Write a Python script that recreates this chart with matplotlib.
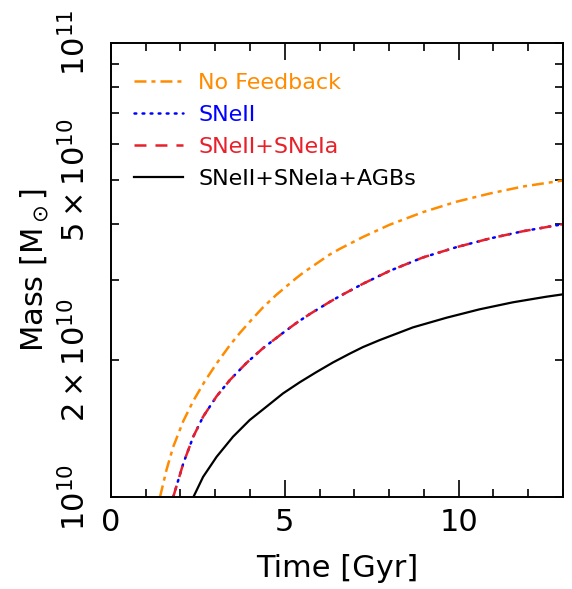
import numpy as np
import matplotlib
matplotlib.use("Agg")
import matplotlib.pyplot as plt

# stellar mass growth, values in units of 1e10 Msun
t_nofb = [1.41, 1.60, 1.79, 2.08, 2.37, 2.70, 3.04, 3.42, 3.71, 4.09, 4.38, 4.76, 5.34, 5.53,
          6.29, 6.58, 7.25, 8.02, 8.97, 9.93, 10.89, 11.85, 13.0]
m_nofb = [1.00, 1.15, 1.29, 1.47, 1.63, 1.80, 1.97, 2.16, 2.30, 2.48, 2.62, 2.79, 3.04, 3.12,
          3.42, 3.52, 3.74, 3.98, 4.24, 4.47, 4.66, 4.83, 4.98]

t_snii = [1.79, 2.08, 2.37, 2.65, 3.04, 3.42, 3.90, 4.38, 4.95, 5.34, 5.72, 6.29, 6.58, 7.25,
          8.02, 8.97, 9.93, 10.89, 11.85, 13.0]
m_snii = [1.00, 1.186, 1.36, 1.503, 1.668, 1.81, 1.975, 2.13, 2.30, 2.42, 2.53, 2.69, 2.77, 2.95,
          3.15, 3.37, 3.55, 3.71, 3.85, 3.99]

t_snia = [1.79, 2.08, 2.37, 2.65, 3.04, 3.42, 3.90, 4.38, 4.95, 5.34, 5.72, 6.29, 6.58, 7.25,
          8.02, 8.97, 9.93, 10.89, 11.85, 13.0]
m_snia = [1.00, 1.186, 1.36, 1.503, 1.668, 1.81, 1.975, 2.13, 2.30, 2.42, 2.53, 2.69, 2.77, 2.95,
          3.15, 3.37, 3.55, 3.71, 3.85, 3.99]

t_agb = [2.37, 2.65, 3.04, 3.51, 3.99, 4.47, 4.95, 5.43, 5.91, 6.39, 6.87, 7.25, 7.73, 8.69,
         9.65, 10.60, 11.56, 12.52, 13.0]
m_agb = [1.00, 1.108, 1.227, 1.358, 1.478, 1.581, 1.692, 1.79, 1.885, 1.98, 2.07, 2.14, 2.217,
         2.365, 2.483, 2.591, 2.685, 2.762, 2.796]

labels = ["No Feedback", "SNeII", "SNeII+SNeIa", "SNeII+SNeIa+AGBs"]
ytick_vals = [1e10, 2e10, 5e10, 1e11]
ytick_labels = [r"$10^{10}$", r"$2\times10^{10}$", r"$5\times10^{10}$", r"$10^{11}$"]

plt.rcParams["mathtext.fontset"] = "dejavusans"
plt.rcParams["lines.scale_dashes"] = False

fig = plt.figure(figsize=(5.72, 5.89), dpi=100)
ax = fig.add_axes([0.194, 0.156, 0.790, 0.771])

ax.plot(t_nofb, np.array(m_nofb) * 1e10, color="#ff8c00", lw=1.8,
        dashes=(8.6, 3.6, 2.9, 3.6), label=labels[0])
ax.plot(t_snii, np.array(m_snii) * 1e10, color="#0000ff", lw=1.8,
        dashes=(1.3, 4.5), dash_capstyle="round", label=labels[1])
ax.plot(t_snia, np.array(m_snia) * 1e10, color="#e8202a", lw=1.8,
        dashes=(8.6, 6.5), label=labels[2])
ax.plot(t_agb, np.array(m_agb) * 1e10, color="black", lw=1.6, label=labels[3])

ax.set_yscale("log")
ax.set_xlim(0, 13)
ax.set_ylim(1e10, 1e11)

ax.set_xticks([0, 5, 10])
ax.set_xticks(np.arange(0, 14), minor=True)
ax.set_yticks(ytick_vals)
ax.set_yticklabels(ytick_labels)
ax.set_yticks([3e10, 4e10, 6e10, 7e10, 8e10, 9e10], minor=True)
ax.yaxis.set_minor_formatter(plt.NullFormatter())

ax.tick_params(which="both", direction="in", top=True, right=True, width=1.2)
ax.tick_params(axis="x", which="major", length=12, labelsize=22, pad=8)
ax.tick_params(axis="x", which="minor", length=5.8)
ax.tick_params(axis="y", which="both", length=5.8, labelsize=22, pad=14)
for lab in ax.get_yticklabels():
    lab.set_rotation(90)
    lab.set_va("center")

for sp in ax.spines.values():
    sp.set_linewidth(1.4)

ax.set_xlabel("Time [Gyr]", fontsize=22, labelpad=12)
ax.set_ylabel(r"Mass [M$_\odot$]", fontsize=22, labelpad=6)

ax.legend(loc="upper left", bbox_to_anchor=(0.051, 0.934), frameon=False,
          fontsize=16, labelcolor="linecolor", handlelength=2.2,
          handletextpad=0.68, labelspacing=0.54, borderpad=0, borderaxespad=0)

fig.savefig("out.png", dpi=100)
